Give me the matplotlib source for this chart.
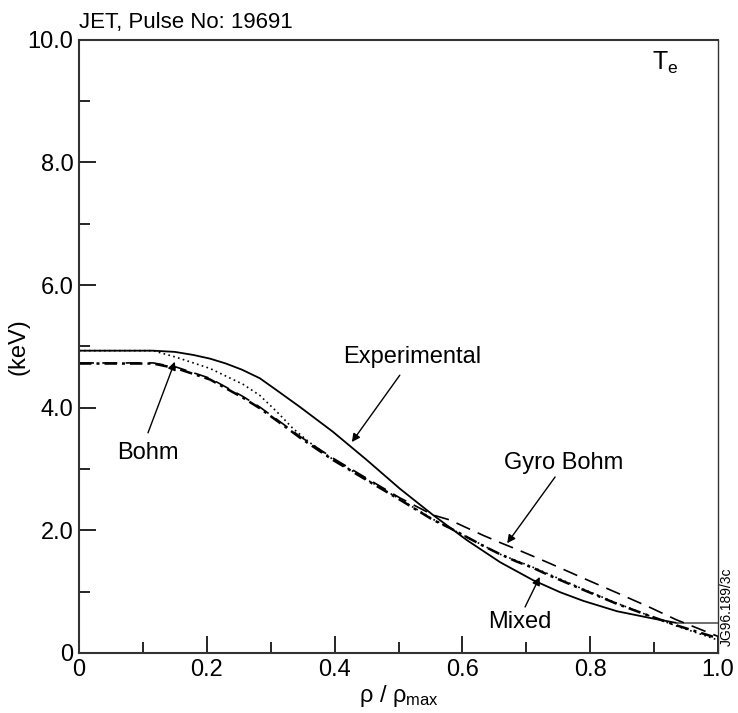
import matplotlib
matplotlib.use("Agg")
import matplotlib.pyplot as plt
from matplotlib.ticker import MultipleLocator, FixedLocator

plt.rcParams.update({
    "font.family": ["Liberation Sans", "DejaVu Sans"],
    "mathtext.fontset": "custom",
    "mathtext.rm": "Liberation Sans",
    "mathtext.it": "Liberation Sans:italic",
})

# Experimental Te profile (solid), flat tail to the edge
rho_exp = [0, 0.116, 0.15, 0.179, 0.205, 0.23, 0.255, 0.283, 0.31, 0.346,
           0.397, 0.45, 0.502, 0.554, 0.607, 0.659, 0.71, 0.753, 0.789, 0.842,
           0.894, 0.935, 1.0]
te_exp = [4.93, 4.93, 4.91, 4.86, 4.80, 4.72, 4.62, 4.48, 4.28, 4.01,
          3.61, 3.15, 2.68, 2.25, 1.84, 1.48, 1.19, 0.99, 0.85, 0.68,
          0.57, 0.49, 0.49]

# Gyro Bohm (dashed)
rho_gb = [0, 0.116, 0.153, 0.205, 0.257, 0.283, 0.32, 0.346, 0.397, 0.45,
          0.502, 0.554, 0.58, 0.607, 0.632, 0.659, 0.685, 0.71, 0.737, 0.789,
          0.842, 0.894, 0.935, 1.0]
te_gb = [4.73, 4.73, 4.66, 4.48, 4.18, 4.01, 3.73, 3.53, 3.18, 2.85,
         2.53, 2.25, 2.17, 2.04, 1.92, 1.80, 1.69, 1.58, 1.46, 1.22,
         0.98, 0.74, 0.54, 0.27]

# Mixed (dash-dot)
rho_mx = [0, 0.116, 0.153, 0.205, 0.257, 0.283, 0.32, 0.346, 0.397, 0.45,
          0.502, 0.554, 0.58, 0.607, 0.632, 0.659, 0.685, 0.71, 0.737, 0.789,
          0.842, 0.894, 0.935, 1.0]
te_mx = [4.72, 4.72, 4.64, 4.46, 4.16, 3.99, 3.71, 3.51, 3.15, 2.82,
         2.50, 2.17, 2.04, 1.89, 1.75, 1.61, 1.49, 1.39, 1.26, 1.03,
         0.80, 0.60, 0.45, 0.24]

# Bohm (dotted)
rho_bo = [0, 0.116, 0.153, 0.205, 0.257, 0.283, 0.31, 0.335, 0.36, 0.397,
          0.45, 0.502, 0.554, 0.607, 0.659, 0.71, 0.789, 0.842, 0.894, 0.935,
          1.0]
te_bo = [4.93, 4.93, 4.82, 4.64, 4.38, 4.20, 3.93, 3.66, 3.44, 3.16,
         2.83, 2.51, 2.18, 1.89, 1.61, 1.40, 1.04, 0.81, 0.60, 0.44,
         0.21]

x_ticks = [0, 0.2, 0.4, 0.6, 0.8, 1.0]
x_labels = ["0", "0.2", "0.4", "0.6", "0.8", "1.0"]
y_ticks = [0, 2, 4, 6, 8, 10]
y_labels = ["0", "2.0", "4.0", "6.0", "8.0", "10.0"]

fig = plt.figure(figsize=(7.38, 7.13), dpi=100)
ax = fig.add_axes([0.107, 0.0842, 0.866, 0.860])

ax.plot(rho_exp[:-1], te_exp[:-1], color="black", lw=1.3, ls="-")
ax.plot(rho_exp[-2:], te_exp[-2:], color="#555555", lw=1.2, ls="-")
ax.plot(rho_gb, te_gb, color="black", lw=1.2, ls=(0, (9, 5)))
ax.plot(rho_mx, te_mx, color="black", lw=1.8, ls=(0, (5, 2, 1.2, 2)))
ax.plot(rho_bo, te_bo, color="black", lw=1.2, ls=(0, (1, 2)))

ax.set_xlim(0, 1.0)
ax.set_ylim(0, 10.0)
ax.xaxis.set_major_locator(FixedLocator(x_ticks))
ax.set_xticklabels(x_labels)
ax.yaxis.set_major_locator(FixedLocator(y_ticks))
ax.set_yticklabels(y_labels)
ax.xaxis.set_minor_locator(MultipleLocator(0.1))
ax.yaxis.set_minor_locator(MultipleLocator(1.0))
ax.tick_params(which="major", direction="in", length=12, width=1.2,
               labelsize=17, pad=4, top=False, right=False)
ax.tick_params(which="minor", direction="in", length=8, width=1.2,
               top=False, right=False)
for s in ax.spines.values():
    s.set_linewidth(1.5)
    s.set_color("#333333")
ax.spines["right"].set_linewidth(1.0)

ax.set_xlabel("ρ / ρ$_{\\mathrm{max}}$", fontsize=17, labelpad=2)
ax.set_ylabel("(keV)", fontsize=17)
ax.yaxis.set_label_coords(-0.077, 0.5)

fig.text(79 / 738, 1 - 28 / 713, "JET, Pulse No: 19691", fontsize=16,
         ha="left", va="baseline")
ax.text(0.917, 9.62, "T$_{\\mathrm{e}}$", fontsize=18, ha="center", va="center")
fig.text(0.985, 0.149, "JG96.189/3c", fontsize=10, rotation=90,
         ha="center", va="center")

arrow = dict(arrowstyle="-|>", color="black", lw=1.0, mutation_scale=12,
             shrinkA=0, shrinkB=0)
ax.text(0.521, 4.83, "Experimental", fontsize=17, ha="center", va="center")
ax.annotate("", xy=(0.427, 3.44), xytext=(0.502, 4.53), arrowprops=arrow)
ax.text(0.108, 3.26, "Bohm", fontsize=17, ha="center", va="center")
ax.annotate("", xy=(0.150, 4.75), xytext=(0.108, 3.59), arrowprops=arrow)
ax.text(0.759, 3.10, "Gyro Bohm", fontsize=17, ha="center", va="center")
ax.annotate("", xy=(0.670, 1.79), xytext=(0.745, 2.87), arrowprops=arrow)
ax.text(0.690, 0.51, "Mixed", fontsize=17, ha="center", va="center")
ax.annotate("", xy=(0.721, 1.24), xytext=(0.698, 0.75), arrowprops=arrow)

fig.savefig("out.png", dpi=100)
